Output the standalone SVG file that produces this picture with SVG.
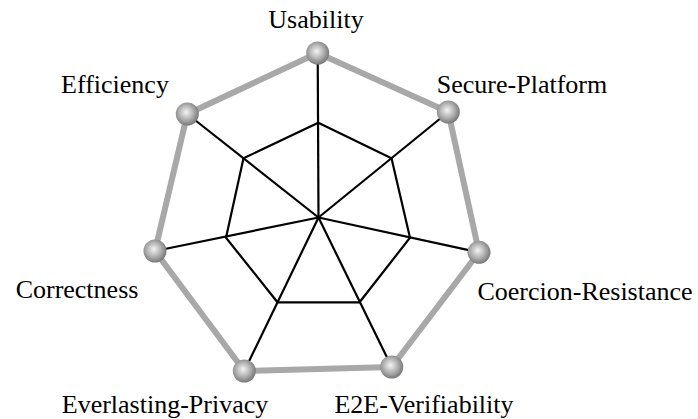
<svg xmlns="http://www.w3.org/2000/svg" width="698" height="419" viewBox="0 0 698 419">
<defs>
<radialGradient id="ball" cx="0.45" cy="0.45" r="0.6" fx="0.45" fy="0.42">
<stop offset="0" stop-color="#f4f4f4"/>
<stop offset="0.5" stop-color="#b4b4b4"/>
<stop offset="1" stop-color="#6e6e6e"/>
</radialGradient>
</defs>
<style>
.outer{fill:none;stroke:#a8a8a8;stroke-width:6;stroke-linejoin:round}
.spoke{stroke:#000;stroke-width:2.2;fill:none}
.inner{fill:none;stroke:#000;stroke-width:2.2;stroke-linejoin:miter}
.lbl{font-family:"Liberation Serif","DejaVu Serif",serif;font-size:26px;fill:#000;text-anchor:middle}
.ball{fill:url(#ball)}
</style>
<rect width="698" height="419" fill="#fff"/>
<g id="connectors">
<polygon class="outer" points="317.7,53 448.3,112 479,252.3 391.7,367 244.3,371 155,251 187.3,114"/>
<line class="spoke" x1="318.5" y1="217.5" x2="317.7" y2="53"/>
<line class="spoke" x1="318.5" y1="217.5" x2="448.3" y2="112"/>
<line class="spoke" x1="318.5" y1="217.5" x2="479" y2="252.3"/>
<line class="spoke" x1="318.5" y1="217.5" x2="391.7" y2="367"/>
<line class="spoke" x1="318.5" y1="217.5" x2="244.3" y2="371"/>
<line class="spoke" x1="318.5" y1="217.5" x2="155" y2="251"/>
<line class="spoke" x1="318.5" y1="217.5" x2="187.3" y2="114"/>
<polygon class="inner" points="318.3,122.7 391.5,158.3 410,237.7 359.5,302.3 277.5,302.3 226,237.7 243.5,158.3"/>
</g>
<g id="usability"><circle class="ball" cx="317.7" cy="53" r="11.5"/><text class="lbl" x="316" y="28">Usability</text></g>
<g id="secure-platform"><circle class="ball" cx="448.3" cy="112" r="11.5"/><text class="lbl" x="522" y="93">Secure-Platform</text></g>
<g id="coercion-resistance"><circle class="ball" cx="479" cy="252.3" r="11.5"/><text class="lbl" x="585" y="300">Coercion-Resistance</text></g>
<g id="e2e-verifiability"><circle class="ball" cx="391.7" cy="367" r="11.5"/><text class="lbl" x="424" y="413">E2E-Verifiability</text></g>
<g id="everlasting-privacy"><circle class="ball" cx="244.3" cy="371" r="11.5"/><text class="lbl" x="165" y="413">Everlasting-Privacy</text></g>
<g id="correctness"><circle class="ball" cx="155" cy="251" r="11.5"/><text class="lbl" x="77" y="298">Correctness</text></g>
<g id="efficiency"><circle class="ball" cx="187.3" cy="114" r="11.5"/><text class="lbl" x="115" y="93">Efficiency</text></g>
</svg>
